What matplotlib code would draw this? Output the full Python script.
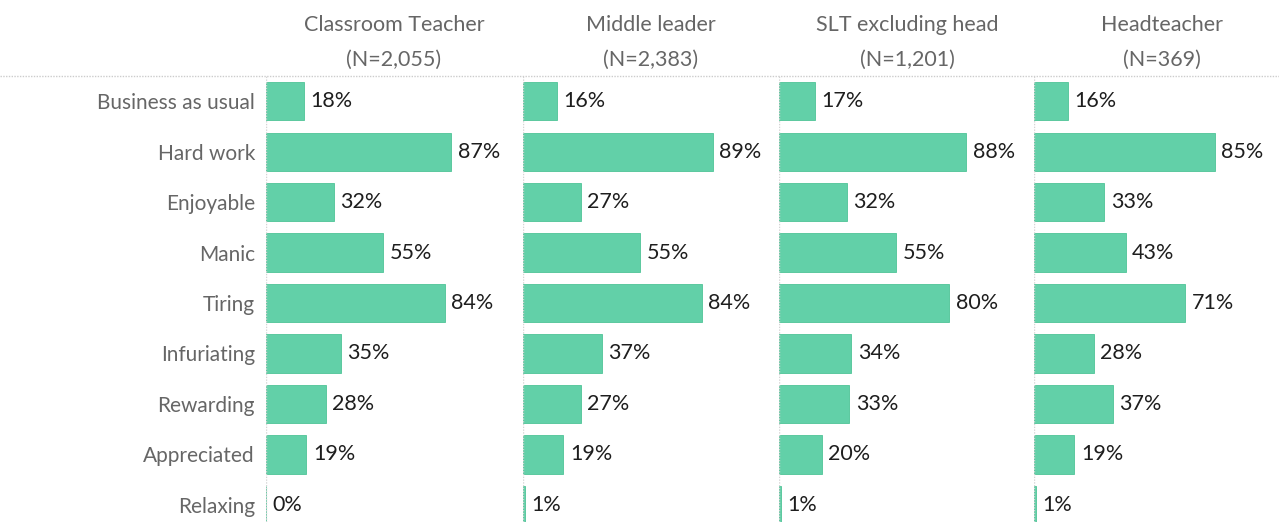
import matplotlib.pyplot as plt
import numpy as np

plt.rcParams['font.family'] = ['Lato', 'DejaVu Sans']

categories = ['Business as usual', 'Hard work', 'Enjoyable', 'Manic', 'Tiring',
              'Infuriating', 'Rewarding', 'Appreciated', 'Relaxing']
groups = ['Classroom Teacher', 'Middle leader', 'SLT excluding head', 'Headteacher']
group_n = ['2,055', '2,383', '1,201', '369']

classroom_teacher = [18, 87, 32, 55, 84, 35, 28, 19, 0]
middle_leader = [16, 89, 27, 55, 84, 37, 27, 19, 1]
slt_excl_head = [17, 88, 32, 55, 80, 34, 33, 20, 1]
headteacher = [16, 85, 33, 43, 71, 28, 37, 19, 1]
values = [classroom_teacher, middle_leader, slt_excl_head, headteacher]

W, H = 1279, 522
fig = plt.figure(figsize=(W / 100, H / 100), dpi=100)

bar_color = '#62d0a8'
px_per_pct = 2.13
panel_left = [266, 523, 779, 1034]
panel_right = [523, 779, 1034, 1279]
panel_w = 256
top_px = 76
y = np.arange(len(categories))

# header separator line
fig.add_artist(plt.Line2D([0, 1], [1 - top_px / H] * 2, transform=fig.transFigure,
                          color='#cccccc', lw=1, ls=(0, (1, 1))))

for i, (g, n, vals) in enumerate(zip(groups, group_n, values)):
    l, r = panel_left[i], panel_right[i]
    ax = fig.add_axes([l / W, 0, (r - l) / W, (H - top_px) / H])
    ax.barh(y, vals, height=0.76, color=bar_color, edgecolor='#4fc497', lw=0.6)
    ax.set_xlim(0, (r - l) / px_per_pct)
    ax.set_ylim(8.34, -0.5)
    for yi, v in zip(y, vals):
        ax.text(v + 3, yi, f'{v}%', va='center', ha='left', fontsize=15.5, color='#1e1e1e')
    ax.axvline(0, color='#d5d5d5', lw=1, ls=(0, (1, 1)))
    for s in ax.spines.values():
        s.set_visible(False)
    ax.set_xticks([])
    if i == 0:
        ax.set_yticks(y)
        ax.set_yticklabels(categories, fontsize=15, color='#666666')
        ax.tick_params(axis='y', length=0, pad=8)
    else:
        ax.set_yticks([])
    cx = (l + panel_w / 2) / W
    fig.text(cx, 1 - 25 / H, g, ha='center', va='center', fontsize=15.5, color='#666666')
    fig.text(cx, 1 - 60 / H, f'(N={n})', ha='center', va='center', fontsize=15.5, color='#666666')

fig.savefig('out.png', dpi=100)
